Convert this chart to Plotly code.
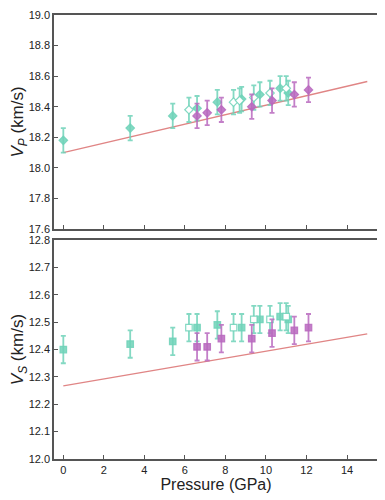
import plotly.graph_objects as go

# VP panel
vp_tf_x = [0, 3.3, 5.4, 6.6, 7.6, 8.8, 9.7, 10.7, 11.1]
vp_tf_y = [18.18, 18.26, 18.34, 18.39, 18.43, 18.45, 18.48, 18.52, 18.49]
vp_to_x = [6.2, 8.4, 8.7, 9.4, 10.2, 11.0]
vp_to_y = [18.38, 18.43, 18.44, 18.46, 18.49, 18.52]
vp_m_x = [6.6, 7.1, 7.8, 9.3, 10.3, 11.4, 12.1]
vp_m_y = [18.34, 18.36, 18.38, 18.40, 18.44, 18.48, 18.51]
vp_err = 0.08
vp_line_x = [0, 15]
vp_line_y = [18.10, 18.565]

# VS panel
vs_tf_x = [0, 3.3, 5.4, 6.6, 7.6, 8.8, 9.7, 10.7, 11.1]
vs_tf_y = [12.40, 12.42, 12.43, 12.48, 12.49, 12.48, 12.51, 12.52, 12.51]
vs_to_x = [6.2, 8.4, 9.4, 10.2, 11.0]
vs_to_y = [12.48, 12.48, 12.51, 12.51, 12.52]
vs_m_x = [6.6, 7.1, 7.8, 9.3, 10.3, 11.4, 12.1]
vs_m_y = [12.41, 12.41, 12.44, 12.44, 12.46, 12.47, 12.48]
vs_err = 0.05
vs_line_x = [0, 15]
vs_line_y = [12.267, 12.457]

teal = "rgba(110,210,185,0.85)"
mag = "rgba(185,105,190,0.85)"
red = "#e08585"

fig = go.Figure()

def add_pts(x, y, err, color, symbol, fill, xa, ya):
    fig.add_trace(go.Scatter(
        x=x, y=y, mode="markers", xaxis=xa, yaxis=ya,
        marker=dict(symbol=symbol, size=6.5, color=fill, line=dict(color=color, width=1.2)),
        error_y=dict(type="constant", value=err, color=color, thickness=1.8, width=2.5),
        showlegend=False))

# top panel
fig.add_trace(go.Scatter(x=vp_line_x, y=vp_line_y, mode="lines", line=dict(color=red, width=1.3),
                         xaxis="x", yaxis="y", showlegend=False))
add_pts(vp_tf_x, vp_tf_y, vp_err, teal, "diamond", teal, "x", "y")
add_pts(vp_to_x, vp_to_y, vp_err, teal, "diamond", "white", "x", "y")
add_pts(vp_m_x, vp_m_y, vp_err, mag, "diamond", mag, "x", "y")

# bottom panel
fig.add_trace(go.Scatter(x=vs_line_x, y=vs_line_y, mode="lines", line=dict(color=red, width=1.3),
                         xaxis="x2", yaxis="y2", showlegend=False))
add_pts(vs_tf_x, vs_tf_y, vs_err, teal, "square", teal, "x2", "y2")
add_pts(vs_to_x, vs_to_y, vs_err, teal, "square", "white", "x2", "y2")
add_pts(vs_m_x, vs_m_y, vs_err, mag, "square", mag, "x2", "y2")

axcol = "#555555"
common = dict(showgrid=False, zeroline=False, showline=True, linecolor=axcol, linewidth=1.5,
              mirror=True, ticks="inside", ticklen=4, tickcolor=axcol, automargin=False,
              ticklabeloverflow="allow",
              tickfont=dict(family="Liberation Sans, Arial", size=11, color="#222"))

fig.update_layout(
    width=377, height=492,
    margin=dict(l=46, r=7, t=7, b=41),
    plot_bgcolor="white", paper_bgcolor="white",
    font=dict(family="Liberation Sans, Arial", color="#222"),
    xaxis=dict(domain=[0, 1], range=[-0.46, 15.53], tickvals=[0, 2, 4, 6, 8, 10, 12, 14],
               showticklabels=False, anchor="y", **common),
    yaxis=dict(domain=[0.518, 1], range=[17.6, 19.0], tickvals=[17.6, 17.8, 18.0, 18.2, 18.4, 18.6, 18.8, 19.0],
               tickformat=".1f", anchor="x",
               title=dict(text="<i>V</i><sub><i>P</i></sub> (km/s)", font=dict(size=17), standoff=6), **common),
    xaxis2=dict(domain=[0, 1], range=[-0.46, 15.53], tickvals=[0, 2, 4, 6, 8, 10, 12, 14], anchor="y2",
                title=dict(text="Pressure (GPa)", font=dict(size=16), standoff=2), **common),
    yaxis2=dict(domain=[0, 0.493], range=[12.0, 12.8], tickvals=[12.0, 12.1, 12.2, 12.3, 12.4, 12.5, 12.6, 12.7, 12.8],
                tickformat=".1f", anchor="x2",
                title=dict(text="<i>V</i><sub><i>S</i></sub> (km/s)", font=dict(size=17), standoff=6), **common),
)

fig.write_html("out.html")
